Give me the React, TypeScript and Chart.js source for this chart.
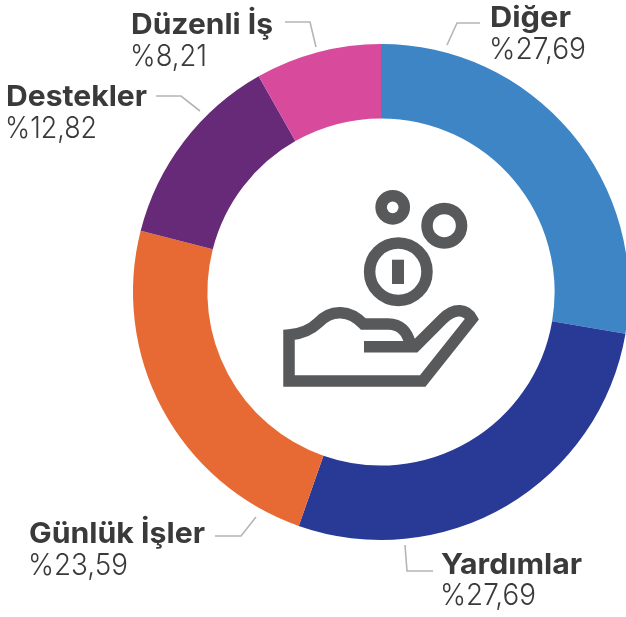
import React, { useEffect, useRef } from "react";
import { Chart, registerables } from "chart.js";

Chart.register(...registerables);

const categories = ["Diğer", "Yardımlar", "Günlük İşler", "Destekler", "Düzenli İş"];
const shares = [27.69, 27.69, 23.59, 12.82, 8.21];
const shareLabels = ["%27,69", "%27,69", "%23,59", "%12,82", "%8,21"];
const colors = ["#3E85C6", "#283996", "#E76A34", "#672A78", "#D84A9C"];

const labelAnchors = [
  { x: 491, y: 27, y2: 59, nameW: 81, shareW: 97 },
  { x: 442, y: 574, y2: 605, nameW: 141, shareW: 96 },
  { x: 30, y: 543, y2: 575, nameW: 176, shareW: 100 },
  { x: 7, y: 106, y2: 138, nameW: 141, shareW: 92 },
  { x: 132, y: 34, y2: 66, nameW: 142, shareW: 77 },
];
const leaders = [
  [[447, 45], [457, 23], [480, 23]],
  [[405, 545], [407, 571], [433, 571]],
  [[215, 536], [241, 536], [256, 517]],
  [[156, 96], [181, 96], [200, 111]],
  [[285, 22], [310, 22], [316, 47]],
];

function fitText(ctx: CanvasRenderingContext2D, text: string, x: number, y: number, w: number) {
  const m = ctx.measureText(text).width;
  ctx.save();
  ctx.translate(x, y);
  ctx.scale(w / m, 1);
  ctx.fillText(text, 0, 0);
  ctx.restore();
}

const decorations = {
  id: "decorations",
  afterDraw(chart: any) {
    const ctx: CanvasRenderingContext2D = chart.ctx;
    ctx.save();
    // leaders
    ctx.strokeStyle = "#B5B5B2";
    ctx.lineWidth = 1.6;
    leaders.forEach((pts) => {
      ctx.beginPath();
      pts.forEach(([x, y], i) => (i ? ctx.lineTo(x, y) : ctx.moveTo(x, y)));
      ctx.stroke();
    });
    // labels
    ctx.textBaseline = "alphabetic";
    ctx.textAlign = "left";
    ctx.fillStyle = "#3A3A3A";
    categories.forEach((name, i) => {
      const a = labelAnchors[i];
      ctx.font = "700 29px Inter, 'Open Sans', sans-serif";
      fitText(ctx, name, a.x - 1, a.y, a.nameW);
      ctx.font = "300 30px Inter, 'Open Sans', sans-serif";
      fitText(ctx, shareLabels[i], a.x - 2, a.y2, a.shareW);
    });
    // icon
    ctx.strokeStyle = "#58595B";
    ctx.fillStyle = "#58595B";
    ctx.lineWidth = 11.5;
    ctx.lineJoin = "miter";
    ctx.miterLimit = 6;
    [
      [392.7, 207.3, 11.6],
      [444.3, 225.7, 17.3],
      [398.3, 271.7, 28.7],
    ].forEach(([x, y, r]) => {
      ctx.beginPath();
      ctx.arc(x, y, r, 0, Math.PI * 2);
      ctx.stroke();
    });
    ctx.fillRect(392, 259.7, 12, 24.3);
    ctx.translate(260, 170);
    ctx.scale(1 / 3, 1 / 3);
    ctx.lineWidth = 34.5;
    const hand = new Path2D(
      "M312 530 L465 530 L548 447 C585 410 620 418 636 447 L488 633 L87 633 L87 495 C125 492 150 482 175 458 C215 415 270 420 310 462 L385 462 C420 462 442 485 450 520"
    );
    ctx.stroke(hand);
    ctx.restore();
  },
};

export default function App() {
  const ref = useRef<HTMLCanvasElement>(null);
  useEffect(() => {
    const chart = new Chart(ref.current!, {
      type: "doughnut",
      data: {
        labels: categories,
        datasets: [{ data: shares, backgroundColor: colors, borderWidth: 0 }],
      },
      options: {
        animation: false,
        responsive: false,
        cutout: "70%",
        layout: { padding: { left: 133, right: 11, top: 44, bottom: 77 } },
        plugins: { legend: { display: false }, tooltip: { enabled: false } },
      },
      plugins: [decorations],
    });
    return () => chart.destroy();
  }, []);
  return (
    <div style={{ position: "fixed", left: 0, top: 0, width: 626, height: 617, overflow: "hidden", background: "#fff" }}>
      <canvas ref={ref} width={640} height={617} style={{ display: "block" }} />
    </div>
  );
}
